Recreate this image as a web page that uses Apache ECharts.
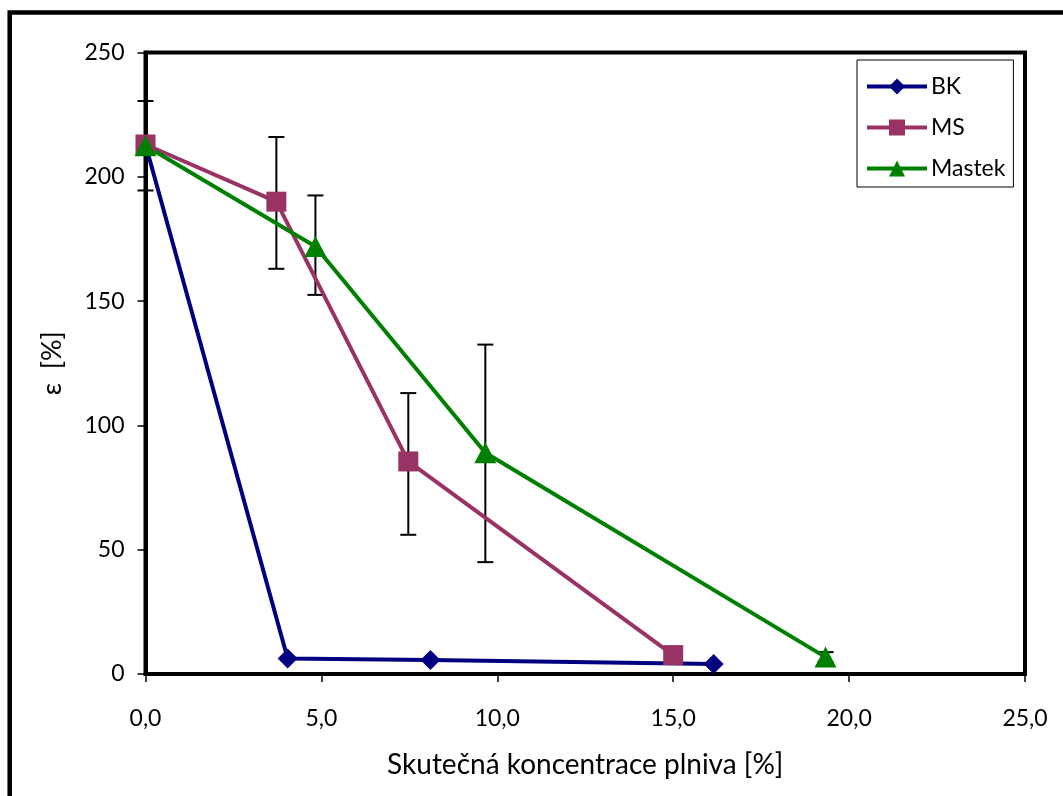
<!DOCTYPE html>
<html>
<head>
<meta charset="utf-8">
<script src="https://cdn.jsdelivr.net/npm/echarts@6/dist/echarts.min.js"></script>
<style>
  html, body { margin: 0; padding: 0; background: #fff; }
  #chart { width: 1063px; height: 796px; }
</style>
</head>
<body>
<div id="chart"></div>
<script>
// Elongation at break vs. actual filler concentration
const seriesNames = ['BK', 'MS', 'Mastek'];
const xTicks = [0, 5, 10, 15, 20, 25];
const yTicks = [0, 50, 100, 150, 200, 250];

const bkData = [[0, 213], [4.04, 6.2], [8.1, 5.6], [16.15, 4.0]];
const msData = [[0, 213], [3.72, 190], [7.47, 85.5], [15.0, 7.6]];
const mastekData = [[0, 212.5], [4.83, 172], [9.66, 89], [19.33, 6.8]];

// [x, lower, upper]
const errorBars = [
  [0, 194.5, 230.5],
  [3.72, 163, 216],
  [4.83, 152.5, 192.5],
  [7.47, 56, 113],
  [9.66, 45, 132.5],
  [19.33, 4.8, 8.8]
];

const colors = { BK: '#000080', MS: '#993366', Mastek: '#008000' };
const fontFamily = 'Lato, "Noto Sans", sans-serif';

const chart = echarts.init(document.getElementById('chart'), null, { renderer: 'canvas' });

function lineSeries(name, data, symbol, size) {
  return {
    name: name,
    type: 'line',
    data: data,
    symbol: symbol,
    symbolSize: size,
    z: 5,
    lineStyle: { color: colors[name], width: 4 },
    itemStyle: { color: colors[name] },
    emphasis: { disabled: true },
    animation: false
  };
}

chart.setOption({
  animation: false,
  backgroundColor: '#ffffff',
  textStyle: { fontFamily: fontFamily },
  graphic: [{
    type: 'rect',
    shape: { x: 9.7, y: 12.5, width: 1200, height: 1000 },
    style: { fill: 'none', stroke: '#000', lineWidth: 4.5 },
    silent: true
  }],
  grid: {
    left: 145.5, top: 52.5, right: 38, bottom: 122,
    show: true, borderColor: '#000', borderWidth: 4, backgroundColor: 'transparent'
  },
  legend: {
    orient: 'vertical',
    left: 857, top: 60,
    padding: [15, 8, 7, 8],
    itemGap: 18,
    itemWidth: 60,
    itemHeight: 20,
    borderColor: '#000',
    borderWidth: 1,
    backgroundColor: '#fff',
    data: seriesNames,
    lineStyle: { width: 4 },
    textStyle: { fontSize: 23, color: '#000', fontFamily: fontFamily, padding: [0, 0, 0, -1] }
  },
  xAxis: {
    type: 'value',
    min: xTicks[0], max: xTicks[xTicks.length - 1], interval: 5,
    name: 'Skutečná koncentrace plniva [%]',
    nameLocation: 'middle',
    nameGap: 77,
    nameTextStyle: { fontSize: 28, color: '#000' },
    axisLine: { show: true, onZero: false, lineStyle: { color: '#000', width: 4 } },
    axisTick: { show: true, length: 8, lineStyle: { color: '#000', width: 1.5 } },
    axisLabel: {
      margin: 33, fontSize: 23, color: '#000',
      formatter: v => v.toFixed(1).replace('.', ',')
    },
    splitLine: { show: false }
  },
  yAxis: {
    type: 'value',
    min: yTicks[0], max: yTicks[yTicks.length - 1], interval: 50,
    name: 'ε  [%]',
    nameLocation: 'middle',
    nameRotate: 90,
    nameGap: 80,
    nameTextStyle: { fontSize: 27, color: '#000' },
    axisLine: { show: true, onZero: false, lineStyle: { color: '#000', width: 4 } },
    axisTick: { show: true, length: 8, lineStyle: { color: '#000', width: 1.5 } },
    axisLabel: { margin: 21, fontSize: 23, color: '#000' },
    splitLine: { show: false }
  },
  series: [
    {
      name: 'errors',
      type: 'custom',
      data: errorBars,
      z: 3,
      silent: true,
      renderItem: function (params, api) {
        const x = api.value(0);
        const lo = api.coord([x, api.value(1)]);
        const hi = api.coord([x, api.value(2)]);
        const half = 8;
        const style = { stroke: '#000', lineWidth: 2 };
        return {
          type: 'group',
          children: [
            { type: 'line', shape: { x1: lo[0], y1: lo[1], x2: hi[0], y2: hi[1] }, style: style },
            { type: 'line', shape: { x1: hi[0] - half, y1: hi[1], x2: hi[0] + half, y2: hi[1] }, style: style },
            { type: 'line', shape: { x1: lo[0] - half, y1: lo[1], x2: lo[0] + half, y2: lo[1] }, style: style }
          ]
        };
      }
    },
    lineSeries('BK', bkData, 'diamond', [20, 20]),
    lineSeries('MS', msData, 'rect', 20),
    lineSeries('Mastek', mastekData, 'triangle', [22, 21])
  ]
});
</script>
</body>
</html>
